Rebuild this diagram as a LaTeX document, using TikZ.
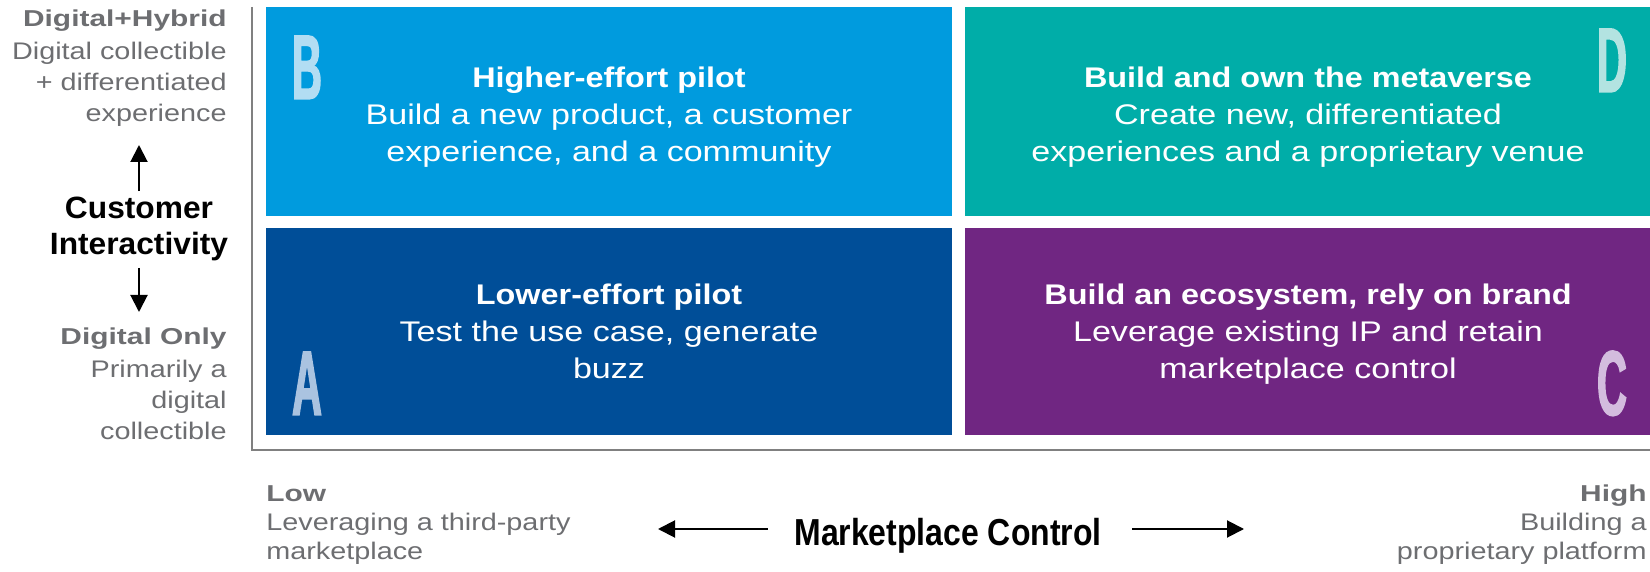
\documentclass[tikz,border=0pt]{standalone}
\usepackage{fontspec}
\setmainfont{Liberation Sans}
\newfontfamily\bodyfont{Liberation Sans}[FakeStretch=1.2]
\newfontfamily\titlefont{Liberation Sans}[FakeStretch=1.14]
\newfontfamily\grayheadfont{Liberation Sans}[FakeStretch=1.3]
\newfontfamily\axisfont{Liberation Sans}[FakeStretch=1.03]
\newfontfamily\mcfont{Liberation Sans}[FakeStretch=0.85]
\newfontfamily\letterfont{Liberation Sans}[FakeStretch=0.45,FakeBold=1.5]
\usetikzlibrary{arrows.meta}
\definecolor{cB}{RGB}{0,155,222}
\definecolor{cD}{RGB}{0,173,168}
\definecolor{cA}{RGB}{0,78,152}
\definecolor{cC}{RGB}{112,38,130}
\definecolor{lB}{RGB}{178,221,243}
\definecolor{lA}{RGB}{170,195,224}
\definecolor{lD}{RGB}{179,227,225}
\definecolor{lC}{RGB}{211,188,222}
\definecolor{txtgray}{RGB}{109,110,113}
\definecolor{axgray}{RGB}{128,128,128}
\tikzset{
  qbox/.style={anchor=north west, inner sep=0pt, outer sep=0pt, draw=none},
  qtext/.style={anchor=base, align=center, text=white, inner sep=0pt,
    font=\bodyfont\fontsize{14.2pt}{18.5pt}\selectfont},
  qletter/.style={anchor=base, inner sep=0pt,
    font=\letterfont\bfseries\fontsize{46pt}{46pt}\selectfont},
  graylabel/.style={inner sep=0pt, text=txtgray,
    font=\bodyfont\fontsize{12pt}{15.5pt}\selectfont},
  graybottom/.style={inner sep=0pt, text=txtgray,
    font=\bodyfont\fontsize{12pt}{14.5pt}\selectfont},
  axtitle/.style={inner sep=0pt, align=center,
    font=\axisfont\bfseries\fontsize{15.4pt}{18pt}\selectfont},
  axarrow/.style={line width=1pt, -{Triangle[length=8.5pt,width=8.5pt]}},
  axisline/.style={line width=1.2pt, draw=axgray}
}
\newcommand{\qtitle}[1]{{\titlefont\bfseries #1}}
\newcommand{\ghead}[1]{{\grayheadfont\bfseries\fontsize{11.5pt}{15.5pt}\selectfont #1}}
\begin{document}
\begin{tikzpicture}[x=0.5pt,y=-0.5pt]
\useasboundingbox (0,0) rectangle (1650,572);
% quadrants
\node[qbox, fill=cB, minimum width=343pt, minimum height=104.5pt] (qB) at (266,7) {};
\node[qbox, fill=cD, minimum width=342.5pt, minimum height=104.5pt] (qD) at (965,7) {};
\node[qbox, fill=cA, minimum width=343pt, minimum height=103.5pt] (qA) at (266,228) {};
\node[qbox, fill=cC, minimum width=342.5pt, minimum height=103.5pt] (qC) at (965,228) {};
% letters
\node[qletter, text=lB] (lbB) at (307,99) {B};
\node[qletter, text=lA] (lbA) at (307,415) {A};
\node[qletter, text=lD] (lbD) at (1612,92) {D};
\node[qletter, text=lC] (lbC) at (1612,415) {C};
% quadrant texts (base = last line)
\node[qtext] (tB) at (609,162) {\qtitle{Higher-effort pilot}\\Build a new product, a customer\\experience, and a community};
\node[qtext] (tD) at (1308,162) {\qtitle{Build and own the metaverse}\\Create new, differentiated\\experiences and a proprietary venue};
\node[qtext] (tA) at (609,379) {\qtitle{Lower-effort pilot}\\Test the use case, generate\\buzz};
\node[qtext] (tC) at (1308,379) {\qtitle{Build an ecosystem, rely on brand}\\Leverage existing IP and retain\\marketplace control};
% axes
\coordinate (ytop) at (252,7);
\coordinate (orig) at (252,450);
\coordinate (xend) at (1650,450);
\draw[axisline] (ytop) -- (orig) -- (xend);
% vertical axis labels
\node[graylabel, anchor=base east, align=right] (hiY) at (227,122) {\ghead{Digital+Hybrid}\\[1pt]Digital collectible\\+ differentiated\\experience};
\node[graylabel, anchor=base east, align=right] (loY) at (227,439) {\ghead{Digital Only}\\[1pt]Primarily a\\digital\\collectible};
\node[axtitle, anchor=base] (ci) at (139,255) {Customer\\Interactivity};
\coordinate (upend) at (139,145);
\coordinate (downend) at (139,312);
\draw[axarrow] ([yshift=3pt]ci.north) -- (upend);
\draw[axarrow] ([yshift=-3pt]ci.south) -- (downend);
% horizontal axis labels
\node[graybottom, anchor=base west, align=left] (loX) at (266,559) {\ghead{Low}\\Leveraging a third-party\\marketplace};
\node[graybottom, anchor=base east, align=right] (hiX) at (1647,559) {\ghead{High}\\Building a\\proprietary platform};
\node[anchor=base, inner sep=0pt, font=\mcfont\bfseries\fontsize{18.8pt}{20pt}\selectfont] (mc) at (948,545) {Marketplace Control};
\coordinate (leftend) at (658,529);
\coordinate (rightend) at (1244,529);
\draw[axarrow] ([xshift=-13pt]mc.west |- leftend) -- (leftend);
\draw[axarrow] ([xshift=15pt]mc.east |- rightend) -- (rightend);
\end{tikzpicture}
\end{document}
